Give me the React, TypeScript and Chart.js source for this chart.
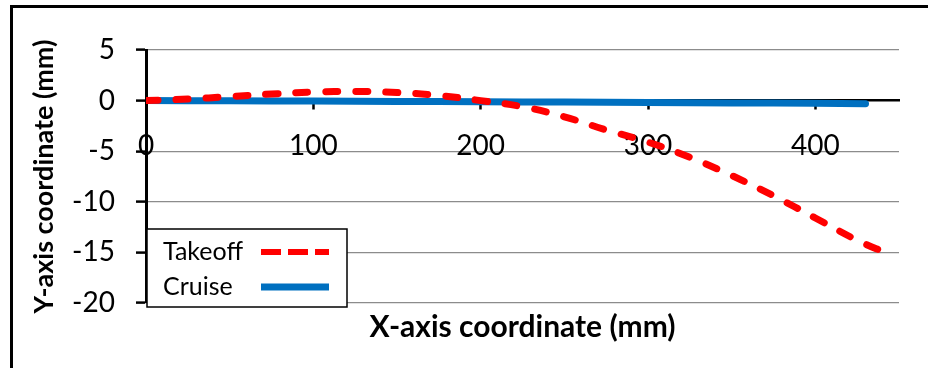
import React, { useEffect, useRef } from 'react';
import { Chart, registerables } from 'chart.js';

Chart.register(...registerables);

// ---- data ----
const takeoffX = [0, 25, 50, 75, 100, 125, 150, 175, 200, 225, 250, 275, 300, 325, 350, 375, 400, 425, 443];
const takeoffY = [0, 0.15, 0.4, 0.65, 0.85, 0.9, 0.8, 0.5, 0.0, -0.6, -1.6, -2.9, -4.1, -5.6, -7.4, -9.4, -11.6, -13.8, -15.1];
const cruiseX = [0, 50, 100, 150, 200, 250, 300, 350, 400, 430];
const cruiseY = [0, -0.02, -0.05, -0.08, -0.11, -0.15, -0.19, -0.23, -0.27, -0.3];
const seriesNames = ['Takeoff', 'Cruise'];
const xTickValues = [0, 100, 200, 300, 400];
const yTickValues = [-20, -15, -10, -5, 0, 5];
const xTitle = 'X-axis coordinate (mm)';
const yTitle = 'Y-axis coordinate (mm)';

const FONT = 'Lato';
const RED = '#FF0000';
const BLUE = '#0070C0';

const decor = {
  id: 'decor',
  beforeDraw(chart: any) {
    const ctx = chart.ctx;
    ctx.save();
    ctx.fillStyle = '#000';
    ctx.fillRect(10, 5, chart.width - 10, 3);
    ctx.fillRect(10, 5, 3, chart.height - 5);
    ctx.restore();
  },
  afterDraw(chart: any) {
    const ctx = chart.ctx;
    const a = chart.chartArea;
    ctx.save();
    ctx.fillStyle = '#000';
    ctx.textAlign = 'center';
    ctx.textBaseline = 'middle';
    ctx.font = `bold 30px ${FONT}`;
    ctx.fillText(xTitle, (a.left + a.right) / 2, a.bottom + 24);
    ctx.save();
    ctx.translate(44, (a.top + a.bottom) / 2);
    ctx.rotate(-Math.PI / 2);
    ctx.font = `bold 27px ${FONT}`;
    ctx.fillText(yTitle, 0, 0);
    ctx.restore();

    // legend box
    const bx = a.left + 1;
    const by = a.bottom - 74;
    const bw = 200;
    const bh = 78;
    ctx.fillStyle = '#fff';
    ctx.fillRect(bx, by, bw, bh);
    ctx.strokeStyle = '#000';
    ctx.lineWidth = 1.5;
    ctx.strokeRect(bx, by, bw, bh);
    const rows = [by + 23, by + 58];
    ctx.font = `25px ${FONT}`;
    ctx.textAlign = 'left';
    ctx.fillStyle = '#000';
    seriesNames.forEach((n, i) => {
      ctx.fillText(n, bx + 16, rows[i]);
    });
    ctx.lineCap = 'butt';
    ctx.strokeStyle = RED;
    ctx.lineWidth = 6;
    ctx.setLineDash([20, 7]);
    ctx.beginPath();
    ctx.moveTo(bx + 114, rows[0]);
    ctx.lineTo(bx + 182, rows[0]);
    ctx.stroke();
    ctx.setLineDash([]);
    ctx.strokeStyle = BLUE;
    ctx.lineWidth = 7;
    ctx.beginPath();
    ctx.moveTo(bx + 114, rows[1]);
    ctx.lineTo(bx + 182, rows[1]);
    ctx.stroke();
    ctx.restore();
  },
};

export default function App() {
  const ref = useRef<HTMLCanvasElement>(null);
  useEffect(() => {
    document.body.style.margin = '0';
    const chart = new Chart(ref.current as HTMLCanvasElement, {
      type: 'line',
      data: {
        datasets: [
          {
            label: seriesNames[0],
            data: takeoffX.map((x, i) => ({ x, y: takeoffY[i] })),
            borderColor: RED,
            backgroundColor: RED,
            borderWidth: 7,
            borderDash: [12, 18],
            borderCapStyle: 'round',
            pointRadius: 0,
            tension: 0.4,
            fill: false,
          },
          {
            label: seriesNames[1],
            data: cruiseX.map((x, i) => ({ x, y: cruiseY[i] })),
            borderColor: BLUE,
            backgroundColor: BLUE,
            borderWidth: 7,
            borderCapStyle: 'round',
            pointRadius: 0,
            tension: 0.4,
            fill: false,
          },
        ],
      },
      options: {
        animation: false,
        responsive: false,
        layout: { padding: { top: 50, right: 29, left: 0, bottom: 65 } },
        plugins: { legend: { display: false }, tooltip: { enabled: false } },
        scales: {
          x: {
            type: 'linear',
            min: 0,
            max: 450,
            position: { y: 0 } as any,
            afterBuildTicks: (s: any) => {
              s.ticks = xTickValues.map((v) => ({ value: v }));
            },
            ticks: {
              font: { family: FONT, size: 28 },
              color: '#000',
              padding: 21,
              maxRotation: 0,
              autoSkip: false,
            },
            grid: {
              display: true,
              drawOnChartArea: false,
              drawTicks: true,
              tickLength: 8,
              tickWidth: 2.5,
              tickColor: '#000',
              color: '#000',
            },
            border: { display: true, color: '#000', width: 2.5 },
          },
          y: {
            type: 'linear',
            min: -20,
            max: 5,
            position: 'left',
            afterBuildTicks: (s: any) => {
              s.ticks = yTickValues.map((v) => ({ value: v }));
            },
            afterFit: (s: any) => {
              s.width = 146;
            },
            ticks: {
              font: { family: FONT, size: 28 },
              color: '#000',
              padding: 21,
            },
            grid: {
              color: (c: any) => (c.tick && c.tick.value === 0 ? 'rgba(0,0,0,0)' : '#8c8c8c'),
              lineWidth: 1.2,
              drawTicks: true,
              tickLength: 10,
              tickWidth: 2.5,
              tickColor: '#000',
            },
            border: { display: true, color: '#000', width: 3 },
          },
        },
      },
      plugins: [decor],
    } as any);
    return () => chart.destroy();
  }, []);
  return (
    <div style={{ width: 928, height: 368, position: 'relative' }}>
      <canvas ref={ref} width={928} height={368} style={{ display: 'block' }} />
    </div>
  );
}
